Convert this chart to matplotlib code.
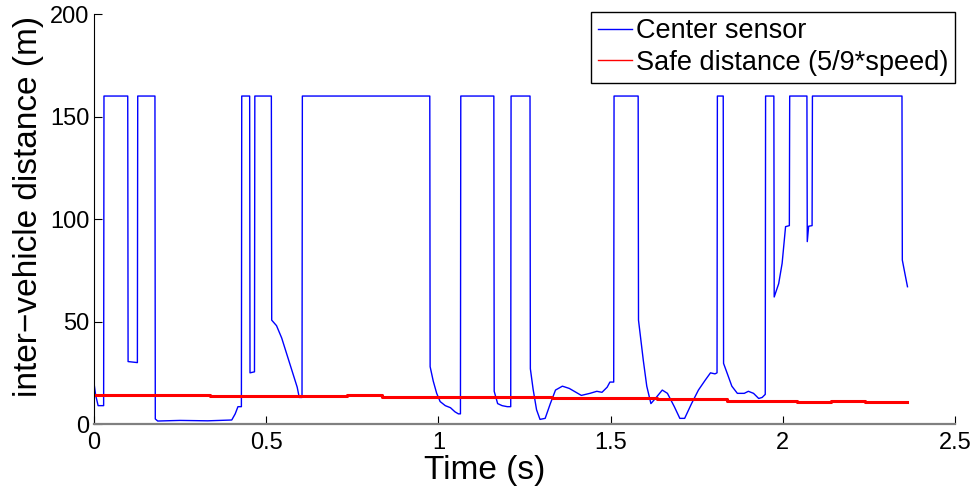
import matplotlib
matplotlib.use('Agg')
from matplotlib import pyplot as plt
from matplotlib.lines import Line2D
import numpy as np

plt.rcParams['font.family'] = ['Liberation Sans', 'DejaVu Sans']

# center sensor trace (time s, distance m)
sensor_t = [0.000, 0.005, 0.012, 0.028, 0.029, 0.098, 0.099, 0.126, 0.127, 0.177,
            0.178, 0.185, 0.25, 0.33, 0.400, 0.410, 0.418, 0.428, 0.429, 0.452,
            0.453, 0.466, 0.467, 0.515, 0.516, 0.530, 0.545, 0.560, 0.575, 0.590,
            0.596, 0.604, 0.605, 0.975, 0.976, 0.985, 0.995, 1.005, 1.020, 1.035,
            1.048, 1.058, 1.064, 1.065, 1.161, 1.162, 1.172, 1.185, 1.200, 1.210,
            1.211, 1.266, 1.267, 1.275, 1.285, 1.295, 1.310, 1.325, 1.340, 1.360,
            1.380, 1.415, 1.440, 1.460, 1.475, 1.490, 1.498, 1.509, 1.510, 1.580,
            1.581, 1.595, 1.605, 1.617, 1.630, 1.650, 1.665, 1.685, 1.701, 1.715,
            1.735, 1.755, 1.775, 1.790, 1.803, 1.809, 1.810, 1.827, 1.828, 1.838,
            1.852, 1.868, 1.888, 1.900, 1.915, 1.930, 1.940, 1.949, 1.950, 1.974,
            1.975, 1.988, 1.998, 2.008, 2.019, 2.020, 2.070, 2.071, 2.075, 2.085,
            2.086, 2.346, 2.347, 2.355, 2.362]
sensor_d = [20, 14, 9, 9, 160, 160, 30.5, 30, 160, 160,
            2.5, 1.5, 1.8, 1.6, 2, 5, 8.5, 8.5, 160, 160,
            25, 25.5, 160, 160, 50.7, 48, 42, 34, 26, 18,
            13, 13, 160, 160, 28, 21, 15, 11, 9, 8,
            6, 5, 5, 160, 160, 16, 10, 9, 8.5, 8.5,
            160, 160, 27, 17, 7, 2.3, 2.8, 10, 16.6, 18.5,
            17.4, 14, 15, 16, 15.5, 18, 20.5, 20.5, 160, 160,
            50.7, 31, 18.5, 10, 12.5, 16.6, 15, 8.5, 2.8, 2.8,
            10, 16.6, 21.5, 25, 24.5, 25, 160, 160, 29.6, 25,
            18.5, 15, 15, 16, 15, 12.5, 13, 14.5, 160, 160,
            62, 68.5, 78.4, 96.3, 96.8, 160, 160, 89, 96.5, 96.8,
            160, 160, 80, 73, 67]

# safe distance steps
safe_t = [0.0, 0.337, 0.734, 0.835, 1.034, 1.33, 1.634, 1.837, 2.04, 2.14, 2.238, 2.362]
safe_d = [14.3, 13.9, 14.2, 13.1, 13.3, 12.7, 12.4, 11.5, 10.9, 11.1, 10.6, 10.6]

fig = plt.figure(figsize=(9.76, 4.92), dpi=100)
ax = fig.add_axes([0.0963, 0.138, 0.8822, 0.8335])

l1, = ax.plot(sensor_t, sensor_d, color='#0000ff', linewidth=1.0)
ax.plot(safe_t, safe_d, color='#ff0000', linewidth=2.2, drawstyle='steps-post')

ax.set_xlim(0, 2.5)
ax.set_ylim(0, 200)
ax.set_xticks([0, 0.5, 1, 1.5, 2, 2.5])
ax.set_xticklabels(['0', '0.5', '1', '1.5', '2', '2.5'])
ax.set_yticks([0, 50, 100, 150, 200])

ax.spines['top'].set_visible(False)
ax.spines['right'].set_visible(False)
ax.spines['bottom'].set_color('0.5')
ax.spines['bottom'].set_linewidth(1.6)
ax.spines['left'].set_linewidth(0.8)
ax.tick_params(direction='in', length=6, labelsize=17, width=0.8)
ax.tick_params(axis='x', pad=6)

ax.set_xlabel('Time (s)', fontsize=24)
ax.set_ylabel('inter\u2212vehicle distance (m)', fontsize=24)
ax.xaxis.set_label_coords(0.454, -0.075)
ax.yaxis.set_label_coords(-0.058, 0.53)

handles = [l1, Line2D([], [], color='#ff0000', linewidth=1.0)]
leg = ax.legend(handles, ['Center sensor', 'Safe distance (5/9*speed)'],
                loc='upper right', bbox_to_anchor=(1.0, 1.006), fontsize=19.5,
                fancybox=False, framealpha=1, edgecolor='black',
                handlelength=1.25, handletextpad=0.15, borderpad=0.25,
                labelspacing=0.2, borderaxespad=0)
leg.get_frame().set_linewidth(1.0)

fig.savefig('out.png', dpi=100)
